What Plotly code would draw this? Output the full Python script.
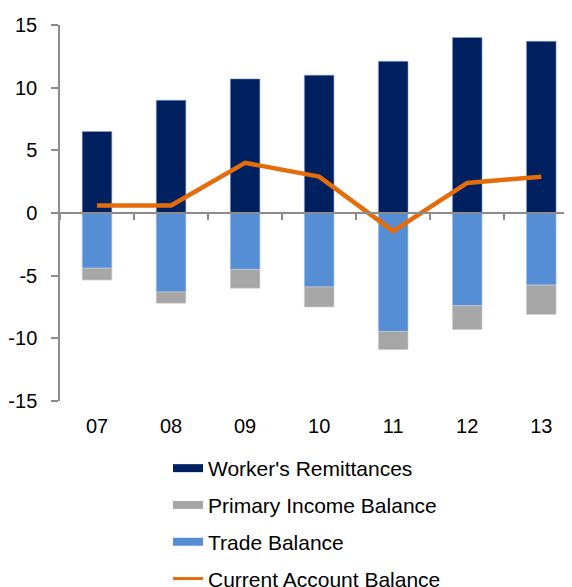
import plotly.graph_objects as go

categories = ["07", "08", "09", "10", "11", "12", "13"]
remittances = [6.5, 9.0, 10.7, 11.0, 12.1, 14.0, 13.7]
trade_balance = [-4.4, -6.3, -4.5, -5.9, -9.45, -7.4, -5.75]
primary_income = [-0.95, -0.9, -1.5, -1.6, -1.45, -1.9, -2.35]
current_account = [0.6, 0.6, 4.0, 2.9, -1.45, 2.4, 2.9]
y_ticks = [-15, -10, -5, 0, 5, 10, 15]

NAVY = "#002060"
GREY = "#A6A6A6"
BLUE = "#558ED5"
ORANGE = "#E46C0A"
AXIS = "#8C8C8C"
FONT = "Liberation Sans, Arial, sans-serif"

fig = go.Figure()
bar_w = 0.4
fig.add_trace(go.Bar(x=categories, y=remittances, name="Worker's Remittances",
                     marker=dict(color=NAVY, line=dict(color="#8FA3C7", width=0.6)),
                     width=bar_w, showlegend=False))
fig.add_trace(go.Bar(x=categories, y=trade_balance, name="Trade Balance",
                     marker=dict(color=BLUE, line=dict(color="#A9C4E8", width=0.6)),
                     width=bar_w, showlegend=False))
fig.add_trace(go.Bar(x=categories, y=primary_income, name="Primary Income Balance",
                     marker=dict(color=GREY, line=dict(color="#D0D0D0", width=0.6)),
                     width=bar_w, showlegend=False))
fig.add_trace(go.Scatter(x=categories, y=current_account, name="Current Account Balance",
                         mode="lines", line=dict(color=ORANGE, width=4.5),
                         xaxis="x2", yaxis="y", showlegend=False))

# legend entries
legend_items = [("Worker's Remittances", NAVY, 8), ("Primary Income Balance", GREY, 8),
                ("Trade Balance", BLUE, 8), ("Current Account Balance", ORANGE, 3)]
for i, (nm, col, w) in enumerate(legend_items):
    fig.add_trace(go.Scatter(x=[None], y=[None], mode="lines", name=nm,
                             line=dict(color=col, width=w), legendgroup=f"g{i}",
                             showlegend=True))

fig.update_layout(
    width=564, height=579,
    margin=dict(l=52, r=0, t=17, b=186, autoexpand=False),
    paper_bgcolor="white", plot_bgcolor="white",
    barmode="relative",
    font=dict(family=FONT, size=20, color="#000000"),
    xaxis=dict(type="category", categoryorder="array", categoryarray=categories,
               range=[-0.5, 6.415], showline=False, showgrid=False, zeroline=False,
               ticks="", ticklabelstandoff=11, tickfont=dict(size=20), automargin=False),
    xaxis2=dict(type="category", matches="x", overlaying="x", anchor="free", position=0.5,
                showline=True, linecolor=AXIS, linewidth=1.5, ticks="outside",
                tickson="boundaries", ticklen=6, tickcolor=AXIS, tickwidth=1.5,
                showticklabels=False, showgrid=False, zeroline=False, automargin=False),
    yaxis=dict(range=[-15, 15], tickvals=y_ticks, ticktext=[str(v) for v in y_ticks],
               showline=True, linecolor=AXIS,
               linewidth=1.5, ticks="outside", ticklen=7, tickcolor=AXIS, tickwidth=1.5,
               showgrid=False, zeroline=False, ticklabelstandoff=10,
               tickfont=dict(size=20), automargin=False),
    legend=dict(x=(160 - 52) / 512, y=-47 / 376,
                xanchor="left", yanchor="top", traceorder="grouped",
                tracegroupgap=6.5, font=dict(size=21), itemwidth=30,
                bgcolor="rgba(0,0,0,0)"),
)

fig.write_html("out.html")
